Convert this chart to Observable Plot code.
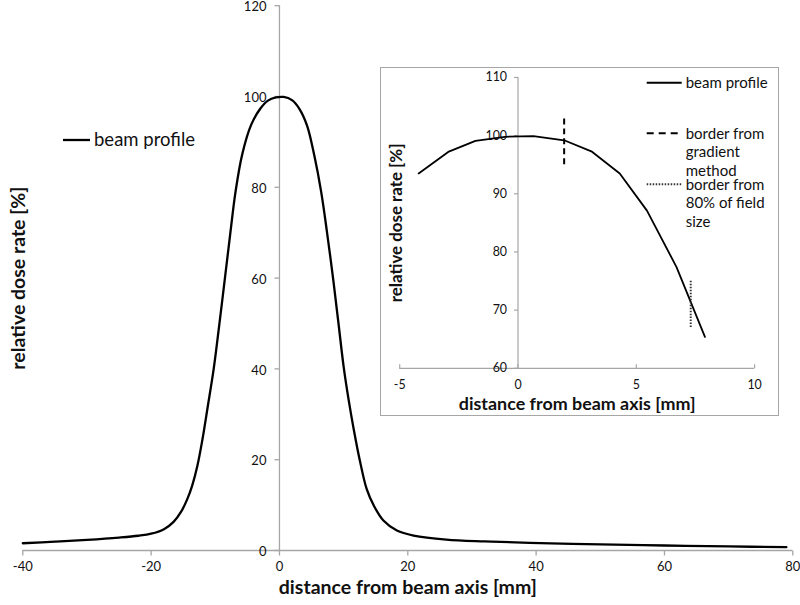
<!DOCTYPE html>
<html>
<head>
<meta charset="utf-8">
<script src="https://cdn.jsdelivr.net/npm/d3@7"></script>
<script src="https://cdn.jsdelivr.net/npm/@observablehq/plot@0.6"></script>
<style>
  html, body { margin: 0; padding: 0; background: #fff; }
  #wrap { position: relative; width: 800px; height: 605px; font-family: Lato, "Open Sans", sans-serif; }
  #inset { position: absolute; left: 380px; top: 67px; width: 399px; height: 349px; box-sizing: border-box; border: 1.3px solid #a6a6a6; background: #fff; }
  #inset svg { position: absolute; left: -1px; top: -1px; }
  #legend { position: absolute; left: 0; top: 0; pointer-events: none; }
</style>
</head>
<body>
<div id="wrap"><div id="main"></div><div id="inset"></div></div>
<script>
// ---- data ----
const mainX = [-40, -35, -30, -25, -22, -20, -18, -16.5, -15.3, -14.4, -13.6, -12.8, -12.0, -11.2, -10.25, -9.4, -8.5, -7.65, -6.85, -5.8, -4.4, -3.0, -1.8, -0.55, 0.65, 1.95, 3.1, 4.3, 5.4, 6.5, 7.4, 8.35, 9.2, 10.0, 10.8, 11.6, 12.5, 13.6, 14.7, 16.2, 18.3, 20.9, 26, 32, 39, 50, 60, 70, 79];
const mainY = [1.6, 1.95, 2.35, 2.85, 3.25, 3.7, 4.7, 6.3, 8.6, 11.2, 14.3, 18.6, 24.5, 31.5, 40, 49.5, 60, 70, 79, 87.3, 93.8, 97.3, 99.1, 99.8, 99.9, 99.2, 97.3, 93.6, 87.2, 79, 70.2, 60, 50, 40.5, 33, 26.5, 20, 13.5, 9.9, 6.6, 4.4, 3.3, 2.4, 2.0, 1.7, 1.35, 1.1, 0.9, 0.73];
const mainXTicks = [-40, -20, 0, 20, 40, 60, 80];
const mainYTicks = [0, 20, 40, 60, 80, 100, 120];

const insetX = [-4.2, -2.95, -1.8, -0.55, 0.65, 1.95, 3.1, 4.3, 5.45, 6.7, 7.9];
const insetY = [93.5, 97.2, 99.1, 99.8, 99.9, 99.2, 97.3, 93.5, 87.1, 77.4, 65.4];
const insetXTicks = [-5, 0, 5, 10];
const insetYTicks = [60, 70, 80, 90, 100, 110];
const gradientBorderX = [1.95], gradientBorderY = [95, 103];
const fieldBorderX = [7.3], fieldBorderY = [67, 75];

const seriesName = "beam profile";
const gradientName = ["border from", "gradient", "method"];
const fieldName = ["border from", "80% of field", "size"];
const xLabel = "distance from beam axis [mm]";
const yLabel = "relative dose rate [%]";

// ---- helpers ----
const gray = "#a6a6a6";
const ink = "#111";
const font = "Lato, 'Open Sans', sans-serif";
const mainData = mainX.map((x, i) => ({x, y: mainY[i]}));
const insetData = insetX.map((x, i) => ({x, y: insetY[i]}));
const tickLeft = (len) => ({draw(ctx) { ctx.moveTo(-len, 0); ctx.lineTo(0, 0); }});
const tickDown = (len) => ({draw(ctx) { ctx.moveTo(0, 0); ctx.lineTo(0, len); }});
const tickUp = (len) => ({draw(ctx) { ctx.moveTo(0, 0); ctx.lineTo(0, -len); }});

// ---- main chart ----
const main = Plot.plot({
  width: 800, height: 605,
  marginLeft: 22.3, marginRight: 7.7, marginTop: 5.2, marginBottom: 55,
  x: {domain: [-40, 80], axis: null},
  y: {domain: [0, 120], axis: null},
  style: {fontFamily: font, background: "#fff", color: ink, overflow: "visible"},
  marks: [
    Plot.ruleX([0], {y1: 0, y2: 120, stroke: gray, strokeWidth: 1.3}),
    Plot.ruleY([0], {x1: -40, x2: 80, stroke: gray, strokeWidth: 1.3}),
    Plot.dot(mainYTicks, {x: () => 0, y: d => d, symbol: tickLeft(5), r: 1, fill: "none", stroke: gray, strokeWidth: 1.3}),
    Plot.dot(mainXTicks, {x: d => d, y: () => 0, symbol: tickDown(5), r: 1, fill: "none", stroke: gray, strokeWidth: 1.3}),
    Plot.text(mainYTicks, {x: () => 0, y: d => d, text: d => String(d), textAnchor: "end", dx: -13, dy: 1.5, fontSize: 13, fill: ink}),
    Plot.text(mainXTicks, {x: d => d, y: () => 0, text: d => String(d), dy: 16, fontSize: 13, fill: ink}),
    Plot.line(mainData, {x: "x", y: "y", curve: "catmull-rom", stroke: "#000", strokeWidth: 2.3}),
    Plot.text([xLabel], {frameAnchor: "bottom", textAnchor: "middle", lineAnchor: "middle", dy: 37, fontSize: 19.5, fontWeight: "bold", fill: ink}),
    Plot.text([yLabel], {frameAnchor: "left", textAnchor: "middle", lineAnchor: "middle", dx: -4, rotate: -90, fontSize: 19.5, fontWeight: "bold", fill: ink})
  ]
});
document.getElementById("main").appendChild(main);

// ---- inset ----
const inset = Plot.plot({
  width: 399, height: 349,
  marginLeft: 19.3, marginRight: 23, marginTop: 10, marginBottom: 46.7,
  x: {domain: [-5, 10], axis: null},
  y: {domain: [60, 110], axis: null},
  style: {fontFamily: font, background: "transparent", color: ink},
  marks: [
    Plot.ruleX([0], {y1: 60, y2: 110, stroke: gray, strokeWidth: 1.2}),
    Plot.ruleY([60], {x1: -5, x2: 10, stroke: gray, strokeWidth: 1.2}),
    Plot.dot(insetYTicks, {x: () => 0, y: d => d, symbol: tickLeft(4), r: 1, fill: "none", stroke: gray, strokeWidth: 1.2}),
    Plot.dot(insetXTicks, {x: d => d, y: () => 60, symbol: tickUp(4), r: 1, fill: "none", stroke: gray, strokeWidth: 1.2}),
    Plot.text(insetYTicks, {x: () => 0, y: d => d, text: d => String(d), textAnchor: "end", dx: -11, fontSize: 12.5, fill: ink}),
    Plot.text(insetXTicks, {x: d => d, y: () => 60, text: d => String(d), dy: 16.5, fontSize: 12.5, fill: ink}),
    Plot.line(insetData, {x: "x", y: "y", stroke: "#000", strokeWidth: 1.8}),
    Plot.ruleX(gradientBorderX, {y1: gradientBorderY[0], y2: gradientBorderY[1], stroke: "#000", strokeWidth: 2, strokeDasharray: "6,4"}),
    Plot.ruleX(fieldBorderX, {y1: fieldBorderY[0], y2: fieldBorderY[1], stroke: "#333", strokeWidth: 2, strokeDasharray: "1.5,1.5"}),
    Plot.text([xLabel], {frameAnchor: "bottom", textAnchor: "middle", lineAnchor: "middle", dy: 36, fontSize: 18, fontWeight: "bold", fill: ink}),
    Plot.text([yLabel], {frameAnchor: "left", textAnchor: "middle", lineAnchor: "middle", dx: -3.5, rotate: -90, fontSize: 17, fontWeight: "bold", fill: ink})
  ]
});
document.getElementById("inset").appendChild(inset);

// ---- legends (overlay) ----
const svg = d3.select("#wrap").append("svg").attr("id", "legend").attr("width", 800).attr("height", 605)
  .style("font-family", font);
function item(x1, x2, y, lines, size, dash, width, color) {
  svg.append("line").attr("x1", x1).attr("x2", x2).attr("y1", y).attr("y2", y)
    .attr("stroke", color).attr("stroke-width", width).attr("stroke-dasharray", dash);
  lines.forEach((t, i) => {
    svg.append("text").attr("x", x2 + 4).attr("y", y + i * 18.5).attr("dy", "0.35em")
      .attr("font-size", size).attr("fill", ink).text(t);
  });
}
item(63, 90, 140, [seriesName], 18.5, null, 2.3, "#000");
item(646.7, 681.7, 82.7, [seriesName], 15, null, 2, "#000");
item(646.7, 681.7, 133.3, gradientName, 15, "7,5", 2, "#000");
item(646.7, 681.7, 184.3, fieldName, 15, "1.5,1.5", 2, "#333");
</script>
</body>
</html>
